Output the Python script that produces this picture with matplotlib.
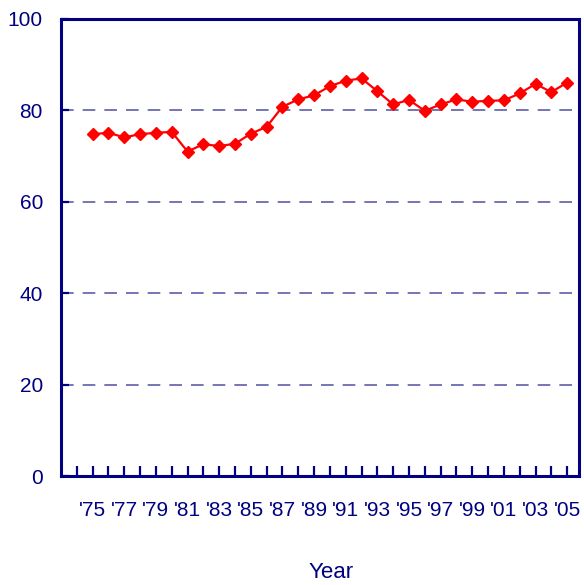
import matplotlib
matplotlib.use("Agg")
import matplotlib.pyplot as plt

years = list(range(1975, 2006))
values = [74.8, 75.1, 74.1, 74.8, 75.1, 75.3, 71.0, 72.6, 72.2, 72.7,
          74.9, 76.4, 80.8, 82.4, 83.3, 85.3, 86.5, 87.0, 84.2, 81.3,
          82.3, 79.9, 81.3, 82.4, 81.9, 82.1, 82.2, 83.7, 85.8, 84.0, 86.1]
tick_years = list(range(1975, 2006, 2))
tick_labels = ["'" + str(y)[2:] for y in tick_years]
yticks = [0, 20, 40, 60, 80, 100]

navy = "#000080"
plt.rcParams['font.family'] = ['Liberation Sans', 'DejaVu Sans']

fig = plt.figure(figsize=(5.84, 5.85), dpi=100)
ax = fig.add_axes([61/584, 1 - 476/585, (579-61)/584, (476-19)/585])

for g in [20, 40, 60, 80]:
    ax.axhline(g, color="#6A6AB0", lw=1.3, dashes=(7, 5), zorder=1)

ax.plot(years, values, color="#FF0000", lw=1.6, marker="D", markersize=6.5,
        markerfacecolor="#FF0000", markeredgecolor="#FF0000", zorder=3, clip_on=False)

ax.set_xlim(1973, 2005.75)
ax.set_ylim(0, 100)
ax.set_xticks(list(range(1974, 2006)), minor=False)
ax.set_xticklabels([])
ax.set_yticks(yticks)
ax.set_yticklabels([str(v) for v in yticks], color=navy, fontsize=15)
ax.tick_params(axis='x', direction='in', length=7, width=1.6, color=navy, pad=0)
ax.tick_params(axis='y', direction='in', length=6, width=1.6, color=navy, pad=13)
for y, lab in zip(tick_years, tick_labels):
    ax.text(y, -5.5, lab, ha='center', va='top', color=navy, fontsize=15,
            transform=ax.transData)

for s in ax.spines.values():
    s.set_color(navy)
    s.set_linewidth(2.2)

fig.text(331/584, 1 - 572/585, "Year", ha='center', va='center', color=navy, fontsize=16)

fig.savefig("out.png", dpi=100)
